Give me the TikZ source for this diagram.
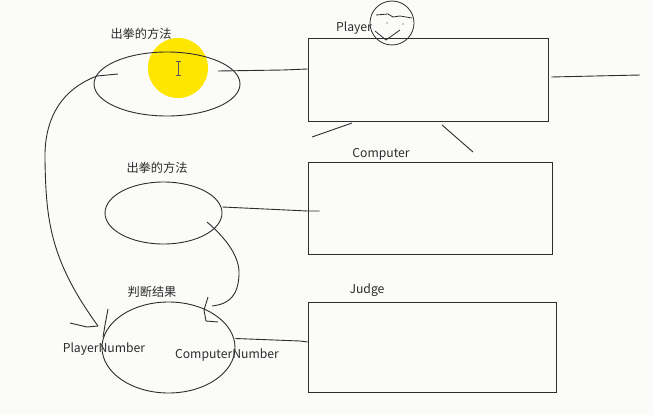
\documentclass[tikz,border=0pt]{standalone}
\usepackage{fontspec}
\setmainfont{Noto Sans CJK SC}
\usetikzlibrary{shapes.geometric}
\definecolor{ink}{RGB}{45,45,45}
\definecolor{bg}{RGB}{251,251,249}
\definecolor{hl}{RGB}{255,230,0}
\tikzset{
  box/.style={draw=ink, line width=0.9pt, minimum width=#1, inner sep=0pt},
  oval/.style={draw=ink, line width=0.9pt, ellipse, inner sep=0pt},
  lbl/.style={font=\fontsize{12.2}{14}\selectfont, text=ink, inner sep=0pt},
  con/.style={draw=ink, line width=0.9pt},
}
\begin{document}
\begin{tikzpicture}[x=1pt,y=-1pt]
\fill[bg] (0,0) rectangle (653,415);
\useasboundingbox (0,0) rectangle (653,415);
% highlight
\fill[hl] (178,68) circle (30);
% boxes
\node[box=240pt, minimum height=83pt] (player) at (428,79.5) {};
\node[box=244pt, minimum height=92pt] (computer) at (430,208) {};
\node[box=248pt, minimum height=90pt] (judge) at (432,347) {};
% ellipses
\node[oval, minimum width=146pt, minimum height=64pt] (e1) at (167,84) {};
\node[oval, minimum width=117pt, minimum height=62pt] (e2) at (163.5,213) {};
\node[oval, minimum width=133pt, minimum height=91pt] (e3) at (168.5,347.5) {};
% labels
\node[lbl] (t1) at (141,34) {出拳的方法};
\node[lbl] (t2) at (157,168) {出拳的方法};
\node[lbl] (t3) at (152,292) {判断结果};
\node[lbl] (tp) at (354,28) {Player};
\node[lbl] (tc) at (381,154) {Computer};
\node[lbl] (tj) at (367,290) {Judge};
\node[lbl] (tpn) at (104,349) {PlayerNumber};
\node[lbl] (tcn) at (227,355) {ComputerNumber};
% cursor
\draw[ink!80, line width=0.8pt] (178,61) -- (178,75) (175.5,61) -- (180.5,61) (175.5,75) -- (180.5,75);
% face
\node[draw=ink, line width=0.8pt, circle, minimum size=44pt, inner sep=0pt] (face) at (392,23) {};
\draw[ink, line width=0.8pt] (376,15) -- (388,14) -- (393,17) -- (400,16) -- (412,18);
\fill[ink] (387,23) circle (0.7) (403,24) circle (0.7);
\draw[ink, line width=0.8pt] (375,31) -- (386,40) -- (400,30);
% connectors
\coordinate (a1) at (218,71);
\coordinate (a0) at (97,76);
\coordinate (a0b) at (118,74);
\draw[con] (a1) -- (283,70) -- ([yshift=10.5pt]player.west);
\draw[con] (a0b) -- (a0);
\draw[con] (a0) .. controls (60,90) and (44,120) .. (45,160)
  .. controls (46,220) and (50,260) .. (98,326);
\draw[con] (70,323) -- (87,327) -- (98,326);
\draw[con] (108,309) -- (105,325) -- (103,337);
\draw[con] ([shift={(3pt,2.5pt)}]player.east) -- (595,76) -- (640,75);
\coordinate (l1) at (312,137);
\coordinate (l2) at (473,152);
\draw[con] (l1) -- (352,123);
\draw[con] (442,125) -- (l2);
\draw[con] ([yshift=6pt]e2.east) -- ([yshift=-3pt]computer.west) -- +(12,0);
\coordinate (b0) at (207,222);
\draw[con] (b0) .. controls (228,240) and (240,258) .. (239,275)
  .. controls (238,295) and (230,304) .. (212,306);
\draw[con] (208,297) -- (204,310) -- (206,321) -- (218,322);
\draw[con] (e3.east) ++(0,-9) -- (300,341) -- ([yshift=5pt]judge.west);
\end{tikzpicture}
\end{document}
